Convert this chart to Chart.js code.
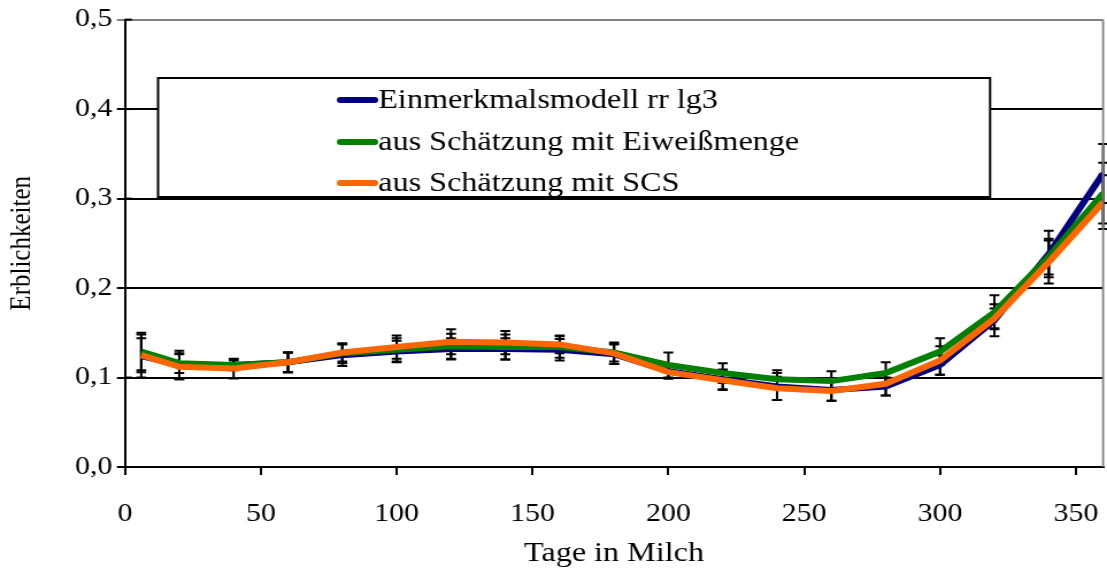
<!DOCTYPE html>
<html>
<head>
<meta charset="utf-8">
<script src="https://cdn.jsdelivr.net/npm/chart.js@4/dist/chart.umd.min.js"></script>
<style>
  body { margin: 0; background: #fff; }
  canvas { display: block; }
</style>
</head>
<body>
<!-- drawn a bit narrower and stretched sideways, like the original picture -->
<canvas id="chart" width="963" height="574" style="width:1107px;height:574px"></canvas>
<script>
// Tage in Milch
const days = [6, 20, 40, 60, 80, 100, 120, 140, 160, 180, 200, 220, 240, 260, 280, 300, 320, 340, 360];

// Erblichkeiten
const einmerkmal = [0.124, 0.114, 0.114, 0.117, 0.125, 0.129, 0.132, 0.132, 0.131, 0.126, 0.107, 0.098, 0.090, 0.086, 0.090, 0.114, 0.164, 0.238, 0.328];
const eiweiss = [0.129, 0.116, 0.114, 0.117, 0.127, 0.131, 0.135, 0.134, 0.134, 0.128, 0.114, 0.105, 0.098, 0.096, 0.105, 0.129, 0.173, 0.235, 0.306];
const scs = [0.125, 0.112, 0.110, 0.117, 0.128, 0.134, 0.140, 0.139, 0.137, 0.127, 0.106, 0.097, 0.088, 0.085, 0.093, 0.119, 0.166, 0.229, 0.296];

// Standardfehler (+/-)
const errEinmerkmal = [0.024, 0.016, 0.006, 0.011, 0.012, 0.012, 0.012, 0.012, 0.012, 0.011, 0.008, 0.011, 0.015, 0.012, 0.010, 0.011, 0.018, 0.026, 0.033];
const errEiweiss = [0.021, 0.011, 0.005, 0.011, 0.011, 0.013, 0.014, 0.014, 0.012, 0.010, 0.014, 0.011, 0.010, 0.011, 0.012, 0.015, 0.019, 0.020, 0.034];
const errScs = [0.019, 0.014, 0.011, 0.011, 0.010, 0.013, 0.014, 0.013, 0.010, 0.012, 0.007, 0.011, 0.013, 0.011, 0.013, 0.016, 0.011, 0.024, 0.030];

const labels = ['Einmerkmalsmodell rr lg3', 'aus Schätzung mit Eiweißmenge', 'aus Schätzung mit SCS'];
const colors = ['#000080', '#008000', '#ff6600'];

const FONT = '"Liberation Serif", "Times New Roman", serif';

function points(values) {
    return values.map((v, i) => ({ x: days[i], y: v }));
}

// black error bars, under the lines
const errorBars = {
    id: 'errorBars',
    beforeDatasetsDraw(chart) {
        const ctx = chart.ctx;
        const xs = chart.scales.x, ys = chart.scales.y;
        ctx.save();
        ctx.strokeStyle = '#000';
        ctx.lineWidth = 2;
        chart.data.datasets.forEach(ds => {
            ds.data.forEach((p, i) => {
                const e = ds.errors[i];
                const px = xs.getPixelForValue(p.x);
                const top = ys.getPixelForValue(p.y + e);
                const bot = ys.getPixelForValue(p.y - e);
                ctx.beginPath();
                ctx.moveTo(px, top); ctx.lineTo(px, bot);
                ctx.moveTo(px - 4.3, top); ctx.lineTo(px + 4.3, top);
                ctx.moveTo(px - 4.3, bot); ctx.lineTo(px + 4.3, bot);
                ctx.stroke();
            });
        });
        ctx.restore();
    }
};

// grey right border and the inner half of the y ticks
const frame = {
    id: 'frame',
    afterDraw(chart) {
        const ctx = chart.ctx, a = chart.chartArea, ys = chart.scales.y;
        ctx.save();
        ctx.strokeStyle = '#808080';
        ctx.lineWidth = 1.8;
        ctx.beginPath();
        ctx.moveTo(a.right, a.top); ctx.lineTo(a.right, a.bottom);
        ctx.stroke();
        ctx.strokeStyle = '#000';
        ctx.lineWidth = 2;
        ys.ticks.forEach(t => {
            const py = ys.getPixelForValue(t.value);
            ctx.beginPath();
            ctx.moveTo(a.left, py); ctx.lineTo(a.left + 6, py);
            ctx.stroke();
        });
        ctx.restore();
    }
};

// boxed legend inside the plot
const boxLegend = {
    id: 'boxLegend',
    afterDraw(chart) {
        const ctx = chart.ctx;
        const box = { left: 137.5, right: 861.3, top: 78, bottom: 197 };
        ctx.save();
        ctx.fillStyle = '#fff';
        ctx.fillRect(box.left, box.top, box.right - box.left, box.bottom - box.top);
        ctx.strokeStyle = '#000';
        ctx.lineWidth = 2;
        ctx.strokeRect(box.left, box.top, box.right - box.left, box.bottom - box.top);
        const rows = [100, 142, 183];
        ctx.font = '28px ' + FONT;
        ctx.textBaseline = 'middle';
        ctx.textAlign = 'left';
        chart.data.datasets.forEach((ds, i) => {
            ctx.strokeStyle = ds.borderColor;
            ctx.lineWidth = 6;
            ctx.lineCap = 'round';
            ctx.beginPath();
            ctx.moveTo(296, rows[i]); ctx.lineTo(326, rows[i]);
            ctx.stroke();
            ctx.fillStyle = '#000';
            ctx.fillText(ds.label, 329, rows[i] + 1);
        });
        ctx.restore();
    }
};

const datasets = [einmerkmal, eiweiss, scs].map((vals, i) => ({
    label: labels[i],
    data: points(vals),
    errors: [errEinmerkmal, errEiweiss, errScs][i],
    borderColor: colors[i],
    backgroundColor: colors[i],
    borderWidth: 6,
    pointRadius: 0,
    tension: 0,
    order: 3 - i
}));

new Chart(document.getElementById('chart'), {
    type: 'line',
    data: { datasets: datasets },
    options: {
        responsive: false,
        devicePixelRatio: 1,
        animation: false,
        layout: { padding: { top: 19, right: 3.4, left: 0, bottom: 0 } },
        plugins: {
            legend: { display: false },
            tooltip: { enabled: false }
        },
        scales: {
            x: {
                type: 'linear',
                min: 0,
                max: 360,
                afterBuildTicks: axis => { axis.ticks = axis.ticks.filter(t => t.value <= 350); },
                afterFit: axis => {
                    axis.height = 107;
                    axis.paddingLeft = 0;
                    axis.paddingRight = 0;
                },
                ticks: {
                    stepSize: 50,
                    includeBounds: false,
                    autoSkip: false,
                    maxRotation: 0,
                    padding: 24,
                    color: '#000',
                    font: { family: FONT, size: 26 }
                },
                grid: { drawOnChartArea: false, color: '#000', lineWidth: 2, tickLength: 8 },
                border: { color: '#000', width: 2 },
                title: {
                    display: true,
                    text: 'Tage in Milch',
                    color: '#000',
                    font: { family: FONT, size: 28 },
                    padding: { top: 0, bottom: 4 }
                }
            },
            y: {
                min: 0,
                max: 0.5,
                afterFit: axis => { axis.width = 108.7; },
                ticks: {
                    stepSize: 0.1,
                    padding: 4,
                    color: '#000',
                    font: { family: FONT, size: 26 },
                    callback: v => v.toFixed(1).replace('.', ',')
                },
                grid: {
                    color: c => (c.tick && c.tick.value > 0.45 ? '#808080' : '#000'),
                    lineWidth: 2,
                    tickLength: 7
                },
                border: { color: '#000', width: 2 },
                title: {
                    display: true,
                    text: 'Erblichkeiten',
                    color: '#000',
                    font: { family: FONT, size: 25 },
                    padding: { top: 4, bottom: 0 }
                }
            }
        }
    },
    plugins: [errorBars, frame, boxLegend]
});
</script>
</body>
</html>
